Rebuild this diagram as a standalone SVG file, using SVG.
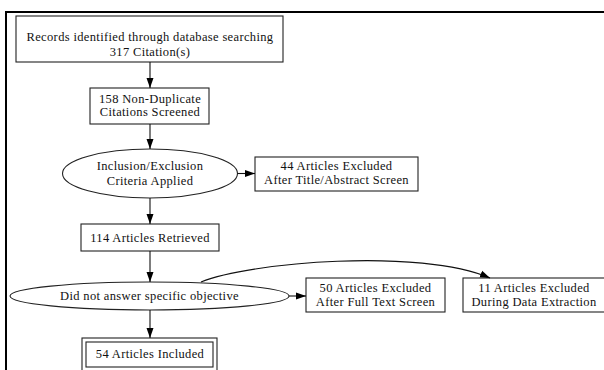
<svg xmlns="http://www.w3.org/2000/svg" width="604" height="370" viewBox="0 0 604 370">
<defs>
<style>
.box{fill:#fff;stroke:#222;stroke-width:1.1}
.t{font-family:"Liberation Serif","Times New Roman",serif;font-size:12.5px;letter-spacing:0.35px;fill:#111;text-anchor:middle}
.frame{stroke:#000;stroke-width:2;fill:none}
</style>
<marker id="ah" markerUnits="userSpaceOnUse" markerWidth="10" markerHeight="8" refX="10" refY="4" orient="auto">
<path d="M0,0.5 L10,4 L0,7.5 z" fill="#000"/>
</marker>
</defs>
<rect width="604" height="370" fill="#fff"/>
<path class="frame" d="M6,372 L6,12 L606,12"/>
<g id="n1"><rect class="box" x="16" y="16" width="267" height="46"/><text class="t" x="150" y="41">Records identified through database searching</text><text class="t" x="150" y="56">317 Citation(s)</text></g>
<g id="n2"><rect class="box" x="90" y="88" width="119" height="36"/><text class="t" x="150" y="103">158 Non-Duplicate</text><text class="t" x="150" y="116">Citations Screened</text></g>
<g id="n3"><ellipse class="box" cx="150" cy="173.5" rx="87.5" ry="24.5"/><text class="t" x="150" y="169.5">Inclusion/Exclusion</text><text class="t" x="150" y="184.5">Criteria Applied</text></g>
<g id="n4"><rect class="box" x="255" y="157" width="163" height="34"/><text class="t" x="336.5" y="169.5">44 Articles Excluded</text><text class="t" x="336.5" y="184">After Title/Abstract Screen</text></g>
<g id="n5"><rect class="box" x="81" y="224" width="138" height="27"/><text class="t" x="150" y="241.5">114 Articles Retrieved</text></g>
<g id="n6"><ellipse class="box" cx="149.5" cy="296" rx="139.5" ry="14"/><text class="t" x="149.5" y="300">Did not answer specific objective</text></g>
<g id="n7"><rect class="box" x="306" y="278" width="139" height="34"/><text class="t" x="375.5" y="291.5">50 Articles Excluded</text><text class="t" x="375.5" y="305.5">After Full Text Screen</text></g>
<g id="n8"><rect class="box" x="463" y="278" width="142" height="34"/><text class="t" x="534" y="291.5">11 Articles Excluded</text><text class="t" x="534" y="305.5">During Data Extraction</text></g>
<g id="n9"><rect class="box" x="82" y="338" width="135" height="34"/><rect class="box" x="86" y="342" width="127" height="25"/><text class="t" x="150" y="358">54 Articles Included</text></g>
<g id="edges" fill="none" stroke="#111" stroke-width="1.1">
<path d="M150,62 L150,88" marker-end="url(#ah)"/>
<path d="M150,124 L150,149" marker-end="url(#ah)"/>
<path d="M237.5,173.5 L255,173.5" marker-end="url(#ah)"/>
<path d="M150,198 L150,224" marker-end="url(#ah)"/>
<path d="M150,251 L150,282" marker-end="url(#ah)"/>
<path d="M289,296 L306,296" marker-end="url(#ah)"/>
<path d="M150,310 L150,338" marker-end="url(#ah)"/>
<path d="M201,282 C250,262 420,248 490,278" marker-end="url(#ah)"/>
</g>
</svg>
